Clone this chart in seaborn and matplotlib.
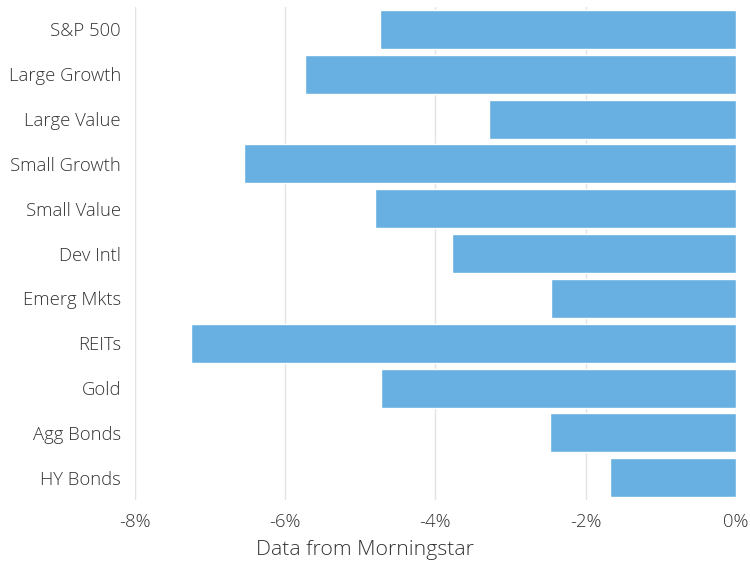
import numpy as np
import pandas as pd
import matplotlib
matplotlib.use("Agg")
import matplotlib.pyplot as plt
import seaborn as sns
from matplotlib.ticker import FuncFormatter

categories = ["S&P 500", "Large Growth", "Large Value", "Small Growth", "Small Value",
              "Dev Intl", "Emerg Mkts", "REITs", "Gold", "Agg Bonds", "HY Bonds"]
returns = [-4.74, -5.74, -3.28, -6.55, -4.81, -3.78, -2.46, -7.26, -4.73, -2.48, -1.68]

df = pd.DataFrame({"asset": categories, "ret": returns})

sns.set_style("white")
plt.rcParams["font.family"] = ["Open Sans", "DejaVu Sans"]
plt.rcParams["font.weight"] = "light"

fig, ax = plt.subplots(figsize=(7.5, 5.62), dpi=100)
fig.subplots_adjust(left=0.18, right=0.981, top=0.9875, bottom=0.110)

sns.barplot(data=df, x="ret", y="asset", color="#67b0e1", saturation=1,
            width=0.87, ax=ax, zorder=2)

ax.set_xlim(-8, 0)
ax.set_xticks([-8, -6, -4, -2, 0])
ax.xaxis.set_major_formatter(FuncFormatter(lambda v, p: f"{v:.0f}%"))
ax.grid(axis="x", color="#e3e3e3", linewidth=1, zorder=0)
ax.set_axisbelow(True)
for s in ax.spines.values():
    s.set_visible(False)
ax.tick_params(axis="both", length=0, labelsize=13.3, colors="#333333")
ax.tick_params(axis="y", pad=10)
ax.tick_params(axis="x", pad=9)
ax.set_ylabel("")
ax.set_xlabel("")
fig.text(365 / 750, 1 - 550 / 562, "Data from Morningstar", fontsize=15.3,
         color="#333333", ha="center", va="center")

fig.savefig("out.png", dpi=100)
